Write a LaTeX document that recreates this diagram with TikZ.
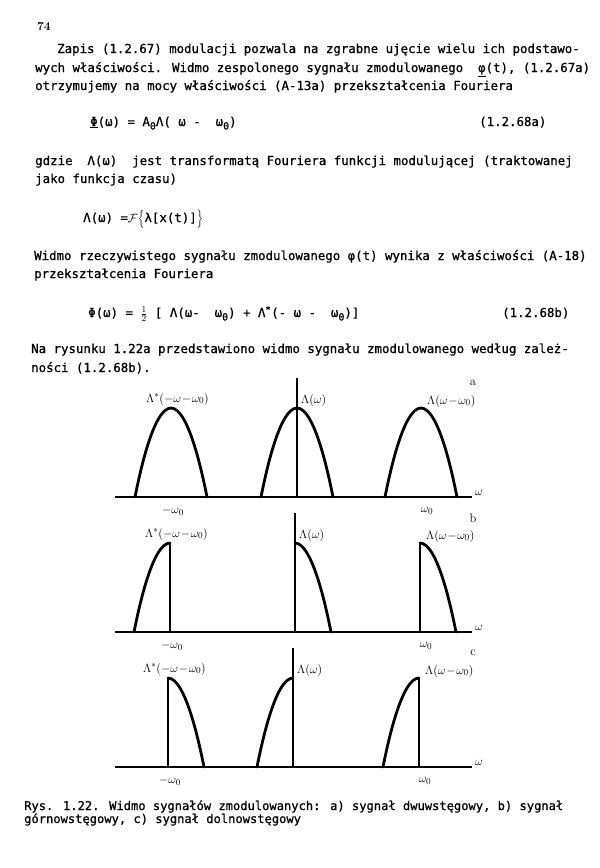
\documentclass[tikz,border=0pt]{standalone}
\usepackage{fontspec}
\newfontfamily\typewr[FakeBold=0.8]{DejaVu Sans Mono}
\usetikzlibrary{calc}
\tikzset{
	txt/.style={anchor=base west,inner sep=0pt,font=\typewr\fontsize{12.4}{18}\selectfont},
	captxt/.style={anchor=base west,inner sep=0pt,font=\typewr\fontsize{12.1}{14}\selectfont},
	lbl/.style={inner sep=0pt,font=\fontsize{12.5}{14}\selectfont},
	axisline/.style={line width=1.4pt},
	cutline/.style={line width=1.2pt},
	humpline/.style={line width=2.8pt,line cap=round}
}
\newcommand{\lowo}{\raisebox{-3.5pt}{\fontsize{10}{10}\selectfont 0}}
\newcommand{\makepanel}[6]{
	\coordinate (#1) at (#3,#5);
	\coordinate (#1l) at (#2,#5);
	\coordinate (#1r) at (#4,#5);
	\coordinate (#1L) at (115,#5);
	\coordinate (#1R) at (472,#5);
	\coordinate (#1T) at ($(#1) - (0,119)$);
	\draw[axisline] (#1L) -- (#1R);
	\draw[axisline] (#1) -- (#1T);
	\node[lbl] (W#1) at ($(#1R) + (7,-4)$) {$\omega$};
	\node[lbl] (P#1) at ($(#1R) + (1,-114)$) {#6};
	\node[lbl] (M#1) at ($(#1l) + (2,14)$) {$-\omega_0$};
	\node[lbl] (N#1) at ($(#1r) + (6,14)$) {$\omega_0$};
	\node[lbl,anchor=west] (A#1) at ($(#1l) + (-25,-98)$) {$\Lambda^{*}(-\omega\!-\!\omega_0)$};
	\node[lbl,anchor=west] (B#1) at ($(#1) + (4,-97)$) {$\Lambda(\omega)$};
	\node[lbl,anchor=west] (C#1) at ($(#1r) + (6,-96)$) {$\Lambda(\omega\!-\!\omega_0)$};
}
\newcommand{\fullhump}[1]{
	\draw[humpline] ($(#1) + (-36,0)$) parabola bend ($(#1) + (0,-89)$) ($(#1) + (36,0)$);
}
\newcommand{\risehump}[1]{
	\draw[humpline] ($(#1) + (-36,0)$) parabola[bend at end] ($(#1) + (0,-89)$);
	\draw[cutline] ($(#1) + (0,-89)$) -- (#1);
}
\newcommand{\fallhump}[1]{
	\draw[cutline] (#1) -- ($(#1) + (0,-89)$);
	\draw[humpline] ($(#1) + (0,-89)$) parabola ($(#1) + (36,0)$);
}
\begin{document}
\begin{tikzpicture}[x=1pt,y=-1pt]
	\useasboundingbox (0,0) rectangle (600,868);
	\node[anchor=base west,inner sep=0pt,font=\bfseries\fontsize{12}{14}\selectfont] (L0) at (37,30) {74};
	\node[txt] (L1) at (57,53) {Zapis (1.2.67) modulacji pozwala na zgrabne ujęcie wielu ich podstawo-};
	\node[txt] (L2) at (35,72) {wych właściwości. Widmo zespolonego sygnału zmodulowanego ~\underline{φ}(t), (1.2.67a)};
	\node[txt] (L3) at (35,90) {otrzymujemy na mocy właściwości (A-13a) przekształcenia Fouriera};
	\node[txt] (E1) at (90,126) {\underline{Φ}(ω) = A\lowo Λ( ω - ~ω\lowo)};
	\node[txt] (N1) at (479,126) {(1.2.68a)};
	\node[txt] (L4) at (35,165) {gdzie ~Λ(ω) ~jest transformatą Fouriera funkcji modulującej (traktowanej};
	\node[txt] (L5) at (35,183) {jako funkcja czasu)};
	\node[txt] (E2) at (83,222) {Λ(ω) =$\mathcal{F}\Big\{$λ[x(t)]$\Big\}$};
	\node[txt] (L6) at (34,260) {Widmo rzeczywistego sygnału zmodulowanego φ(t) wynika z właściwości (A-18)};
	\node[txt] (L7) at (34,278) {przekształcenia Fouriera};
	\node[txt] (E3) at (88,317) {Φ(ω) = $\frac{1}{2}$ [ Λ(ω- ~ω\lowo) + Λ\textsuperscript{*}(- ω - ~ω\lowo)]};
	\node[txt] (N3) at (502,317) {(1.2.68b)};
	\node[txt] (L8) at (31,353) {Na rysunku 1.22a przedstawiono widmo sygnału zmodulowanego według zależ-};
	\node[txt] (L9) at (31,372) {ności (1.2.68b).};
	\makepanel{a}{171}{297}{421}{497}{a}
	\fullhump{al}
	\fullhump{a}
	\fullhump{ar}
	\makepanel{b}{170}{295}{420}{632}{b}
	\risehump{bl}
	\fallhump{b}
	\fallhump{br}
	\makepanel{c}{168}{293}{419}{767}{c}
	\fallhump{cl}
	\risehump{c}
	\risehump{cr}
	\node[captxt] (R1) at (24,810) {Rys. 1.22. Widmo sygnałów zmodulowanych: a) sygnał dwuwstęgowy, b) sygnał};
	\node[captxt] (R2) at (24,823) {górnowstęgowy, c) sygnał dolnowstęgowy};
\end{tikzpicture}
\end{document}
